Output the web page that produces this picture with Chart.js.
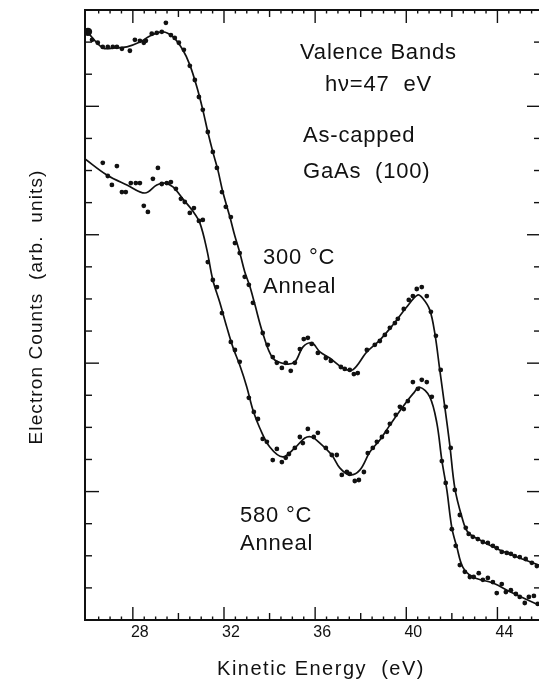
<!DOCTYPE html>
<html>
<head>
<meta charset="utf-8">
<script src="https://cdn.jsdelivr.net/npm/chart.js@4.4.0/dist/chart.umd.min.js"></script>
<style>
  html, body { margin: 0; padding: 0; background: #fff; overflow: hidden; }
  #wrap { position: relative; width: 548px; height: 682px; }
</style>
</head>
<body>
<div id="wrap"><canvas id="chart" width="548" height="682"></canvas></div>
<script>
// fitted curve, 300 C anneal
const fitX300 = [25.9, 26.03, 26.68, 27.21, 27.74, 28.31, 28.75, 29.32, 29.76, 30.19, 30.5, 30.81, 31.07, 31.29, 31.51, 31.73, 31.95, 32.26, 32.48, 32.69, 32.91, 33.13, 33.35, 33.7, 34.14, 34.67, 35.11, 35.46, 35.85, 36.21, 36.64, 37.21, 37.65, 38.27, 38.84, 39.41, 40.02, 40.5, 40.72, 41.03, 41.25, 41.47, 41.69, 41.91, 42.13, 42.44, 42.7, 43.23, 44.1, 44.98, 45.81, 46];
const fit300 = [18.36, 18.29, 17.82, 17.82, 17.85, 18.0, 18.19, 18.32, 18.16, 17.76, 17.29, 16.6, 15.89, 15.2, 14.58, 14.02, 13.33, 12.55, 11.95, 11.45, 10.85, 10.4, 9.84, 8.94, 8.16, 7.98, 8.04, 8.5, 8.63, 8.35, 8.16, 7.85, 7.79, 8.35, 8.72, 9.19, 9.75, 10.12, 10.02, 9.66, 8.94, 7.79, 6.64, 5.45, 4.11, 3.21, 2.74, 2.49, 2.18, 1.93, 1.71, 1.66];
// measured points, 300 C anneal
const dotX300 = [26.03, 26.21, 26.46, 26.68, 26.90, 27.12, 27.30, 27.52, 27.87, 28.09, 28.31, 28.48, 28.57, 28.83, 29.05, 29.27, 29.45, 29.67, 29.84, 30.02, 30.24, 30.50, 30.72, 30.90, 31.07, 31.29, 31.51, 31.69, 31.91, 32.08, 32.30, 32.48, 32.69, 32.91, 33.09, 33.27, 33.70, 33.92, 34.14, 34.32, 34.54, 34.71, 34.93, 35.11, 35.33, 35.50, 35.68, 35.85, 36.12, 36.47, 36.69, 37.13, 37.30, 37.52, 37.70, 37.87, 38.27, 38.62, 38.84, 39.06, 39.28, 39.50, 39.63, 39.89, 40.11, 40.29, 40.46, 40.68, 40.90, 41.08, 41.30, 41.51, 41.73, 41.95, 42.13, 42.35, 42.61, 42.74, 42.92, 43.14, 43.36, 43.58, 43.80, 43.97, 44.19, 44.41, 44.59, 44.76, 44.98, 45.24, 45.51, 45.73];
const dot300 = [18.32, 18.07, 17.98, 17.85, 17.85, 17.85, 17.85, 17.79, 17.73, 18.07, 18.04, 17.98, 18.04, 18.26, 18.29, 18.32, 18.60, 18.22, 18.13, 17.98, 17.76, 17.26, 16.82, 16.29, 15.89, 15.20, 14.58, 14.08, 13.33, 12.87, 12.55, 11.74, 11.43, 10.69, 10.44, 9.88, 8.94, 8.57, 8.19, 8.01, 7.85, 8.01, 7.76, 8.01, 8.44, 8.75, 8.79, 8.60, 8.32, 8.16, 8.07, 7.88, 7.82, 7.79, 7.66, 7.69, 8.41, 8.57, 8.69, 8.88, 9.10, 9.25, 9.38, 9.69, 9.97, 10.09, 10.31, 10.37, 10.09, 9.60, 8.85, 7.79, 6.64, 5.36, 4.05, 3.27, 2.87, 2.68, 2.59, 2.52, 2.43, 2.40, 2.31, 2.24, 2.12, 2.09, 2.06, 1.99, 1.96, 1.90, 1.78, 1.68];

// fitted curve, 580 C anneal
const fitX580 = [25.9, 26.86, 27.74, 28.53, 29.05, 29.4, 29.76, 30.19, 30.63, 30.94, 31.25, 31.51, 31.82, 32.12, 32.39, 32.69, 33.0, 33.27, 33.57, 34.01, 34.58, 35.11, 35.55, 35.85, 36.21, 36.73, 37.08, 37.52, 37.96, 38.4, 38.84, 39.28, 39.85, 40.3, 40.59, 41.03, 41.34, 41.56, 41.78, 42.0, 42.22, 42.48, 42.92, 43.8, 44.67, 45.81, 46];
const fit580 = [14.36, 13.86, 13.55, 13.3, 13.55, 13.61, 13.49, 13.12, 12.74, 12.37, 11.53, 10.59, 9.88, 9.13, 8.5, 7.94, 7.26, 6.54, 5.98, 5.39, 5.08, 5.36, 5.67, 5.7, 5.51, 5.14, 4.74, 4.52, 4.67, 5.23, 5.61, 6.07, 6.64, 7.05, 7.25, 6.95, 6.14, 4.98, 4.05, 2.87, 2.27, 1.65, 1.34, 1.15, 0.84, 0.47, 0.43];
// measured points, 580 C anneal
const dotX580 = [26.68, 26.90, 27.08, 27.30, 27.52, 27.69, 27.91, 28.13, 28.31, 28.48, 28.66, 28.88, 29.10, 29.27, 29.49, 29.67, 29.89, 30.11, 30.28, 30.50, 30.68, 30.90, 31.07, 31.29, 31.51, 31.69, 31.91, 32.30, 32.48, 32.69, 33.09, 33.31, 33.49, 33.70, 33.88, 34.14, 34.32, 34.54, 34.71, 34.85, 35.11, 35.33, 35.46, 35.68, 35.94, 36.12, 36.47, 36.73, 36.95, 37.17, 37.39, 37.52, 37.74, 37.92, 38.14, 38.31, 38.53, 38.71, 38.93, 39.15, 39.28, 39.54, 39.72, 39.89, 40.07, 40.29, 40.51, 40.68, 40.90, 41.12, 41.56, 41.73, 42.00, 42.17, 42.35, 42.57, 42.79, 42.96, 43.18, 43.36, 43.58, 43.80, 43.97, 44.19, 44.37, 44.59, 44.81, 44.98, 45.20, 45.38, 45.60, 45.77];
const dot580 = [14.24, 13.83, 13.55, 14.14, 13.33, 13.33, 13.61, 13.61, 13.61, 12.90, 12.71, 13.74, 14.08, 13.58, 13.61, 13.64, 13.43, 13.12, 13.02, 12.68, 12.83, 12.43, 12.46, 11.15, 10.59, 10.37, 9.56, 8.66, 8.41, 8.04, 6.92, 6.48, 6.26, 5.64, 5.55, 4.98, 5.33, 4.92, 5.05, 5.17, 5.36, 5.70, 5.51, 5.95, 5.70, 5.83, 5.36, 5.14, 5.14, 4.52, 4.61, 4.55, 4.33, 4.36, 4.61, 5.20, 5.36, 5.55, 5.70, 5.86, 6.11, 6.39, 6.64, 6.57, 6.82, 7.41, 7.20, 7.48, 7.41, 6.95, 4.95, 4.27, 2.83, 2.31, 1.71, 1.50, 1.34, 1.34, 1.46, 1.25, 1.31, 1.18, 0.84, 1.12, 0.87, 0.93, 0.81, 0.72, 0.53, 0.72, 0.75, 0.50];

const xTickLabels = [28, 32, 36, 40, 44];

// text placed on the plot: [text, left x, baseline y]
const notes = [
  ["Valence Bands", 300, 59],
  ["h\u03bd=47  eV", 325, 91],
  ["As-capped", 303, 142],
  ["GaAs  (100)", 303, 178],
  ["300 \u00b0C", 263, 264],
  ["Anneal", 263, 293],
  ["580 \u00b0C", 240, 522],
  ["Anneal", 240, 550]
];

const INK = "#111";
const FONT = "'Liberation Sans', Arial, Helvetica, sans-serif";

const toPts = (xs, ys) => xs.map((x, i) => ({ x: x, y: ys[i] }));
const isStep = (v, s) => Math.abs(v / s - Math.round(v / s)) < 1e-6;

// inward tick marks on all four sides, plus titles and notes
const frameDecor = {
  id: "frameDecor",
  afterDraw(chart) {
    const { ctx, chartArea: a, scales } = chart;
    const x = scales.x, y = scales.y;
    ctx.save();
    ctx.strokeStyle = INK;
    ctx.lineWidth = 1.4;
    const seg = (x1, y1, x2, y2) => { ctx.beginPath(); ctx.moveTo(x1, y1); ctx.lineTo(x2, y2); ctx.stroke(); };

    x.ticks.forEach(t => {
      const v = t.value;
      if (!isStep(v, 0.5)) return;
      const px = x.getPixelForValue(v);
      const len = isStep(v, 4) ? 13 : isStep(v, 2) ? 7 : 3.5;
      seg(px, a.bottom, px, a.bottom - len);
      seg(px, a.top, px, a.top + len);
    });
    y.ticks.forEach(t => {
      const v = t.value;
      if (!isStep(v, 1)) return;
      const py = y.getPixelForValue(v);
      const big = isStep(v, 4);
      seg(a.left, py, a.left + (big ? 14 : 7), py);
      seg(a.right, py, a.right - (big ? 16 : 9), py);
    });

    ctx.fillStyle = INK;
    ctx.textBaseline = "alphabetic";
    ctx.textAlign = "left";
    ctx.font = "22px " + FONT;
    ctx.letterSpacing = "0.8px";
    notes.forEach(n => ctx.fillText(n[0], n[1], n[2]));

    // axis titles
    ctx.font = "20px " + FONT;
    ctx.letterSpacing = "1.5px";
    ctx.textAlign = "center";
    ctx.fillText("Kinetic Energy  (eV)", 321, 675);

    ctx.font = "19px " + FONT;
    ctx.letterSpacing = "1.1px";
    ctx.translate(42, 307);
    ctx.rotate(-Math.PI / 2);
    ctx.fillText("Electron Counts  (arb.  units)", 0, 0);
    ctx.restore();
  }
};

const ctx = document.getElementById("chart").getContext("2d");
new Chart(ctx, {
  type: "scatter",
  data: {
    datasets: [
      { data: toPts(fitX300, fit300), showLine: true, borderColor: INK, borderWidth: 1.7, pointRadius: 0, tension: 0.35 },
      { data: toPts(fitX580, fit580), showLine: true, borderColor: INK, borderWidth: 1.7, pointRadius: 0, tension: 0.35 },
      { data: toPts(dotX300, dot300), showLine: false, backgroundColor: INK, borderWidth: 0,
        pointRadius: c => c.dataIndex === 0 ? 4.2 : 2.4 },
      { data: toPts(dotX580, dot580), showLine: false, backgroundColor: INK, borderWidth: 0, pointRadius: 2.4 }
    ]
  },
  options: {
    responsive: false,
    animation: false,
    events: [],
    layout: { padding: { top: 10, right: 5, left: 0, bottom: 0 } },
    plugins: { legend: { display: false }, tooltip: { enabled: false } },
    scales: {
      x: {
        type: "linear", position: "bottom", min: 25.9, max: 46,
        afterFit: s => { s.height = 62; },
        grid: { display: false, drawTicks: false },
        border: { display: true, color: INK, width: 2 },
        ticks: {
          stepSize: 0.5, autoSkip: false, maxRotation: 0, padding: 3, labelOffset: 7,
          color: INK, font: { family: FONT, size: 16 },
          callback: v => xTickLabels.includes(v) ? String(v) : ""
        }
      },
      xTop: {
        type: "linear", position: "top", min: 25.9, max: 46,
        afterFit: s => { s.height = 0; },
        grid: { display: false, drawTicks: false },
        border: { display: true, color: INK, width: 2 },
        ticks: { display: false }
      },
      y: {
        type: "linear", position: "left", min: 0, max: 19,
        afterFit: s => { s.width = 85; },
        grid: { display: false, drawTicks: false },
        border: { display: true, color: INK, width: 2 },
        ticks: { display: false, stepSize: 1 }
      },
      yRight: {
        type: "linear", position: "right", min: 0, max: 19,
        afterFit: s => { s.width = 0; },
        grid: { display: false, drawTicks: false },
        border: { display: true, color: INK, width: 2 },
        ticks: { display: false }
      }
    }
  },
  plugins: [frameDecor]
});
</script>
</body>
</html>
